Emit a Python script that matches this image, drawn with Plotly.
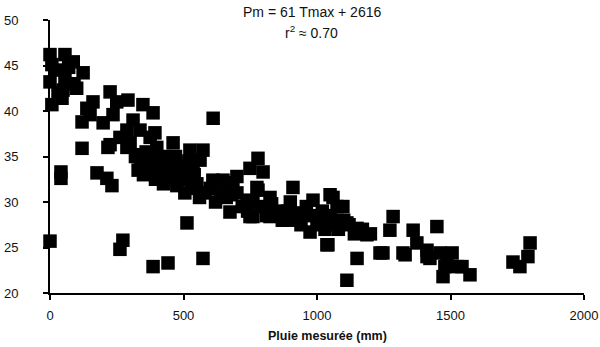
import plotly.graph_objects as go

pluie = [0, 7, 0, 7, 0, 56, 87, 56, 124, 49, 100, 45, 161, 138, 120, 225, 250, 292, 348, 386,
         236, 199, 311, 337, 262, 375, 120, 217, 326, 400, 611, 393, 461, 524, 573, 562, 749, 648,
         536, 487, 779, 798, 910, 1049, 700, 779, 985, 1075, 813, 749, 873, 936, 1011, 1112, 974,
         1037, 685, 1060, 1097, 1150, 1187, 1285, 1273, 1360, 1449, 1374, 1322, 1412, 1423, 1461,
         1506, 1236, 1150, 1112, 1479, 1472, 1543, 1524, 1573, 1798, 1790, 1734, 1760, 1487,
         41, 41, 176, 213, 232, 273, 262, 386, 442, 513, 573, 1041, 150, 288, 288, 225,
         300, 320, 340, 360, 370, 380, 390, 400, 410, 420, 430, 440, 450, 460, 470, 480, 490, 500,
         510, 520, 530, 540, 550, 330, 350, 395, 425, 455, 475, 505, 560, 580, 600, 620, 640, 660,
         680, 700, 720, 740, 760, 790, 810, 830, 850, 870, 890, 900, 920, 940, 960, 980, 1000,
         1020, 1030, 1050, 1060, 1080, 1100, 1120, 1140, 1170, 1200, 610, 674, 760, 824, 925,
         1004, 775, 738, 824, 1330, 1412, 1247, 20, 70, 30, 90]
tmax = [46.2, 45.1, 43.2, 40.7, 25.7, 46.2, 45.4, 43.7, 44.2, 42.3, 42.5, 41.4, 41.0, 40.3, 38.8,
        42.1, 41.0, 41.2, 40.7, 39.8, 39.6, 38.7, 39.0, 37.9, 37.1, 37.1, 35.9, 36.0, 35.2, 34.3,
        39.2, 37.6, 36.5, 35.7, 35.7, 34.6, 33.7, 32.4, 33.5, 32.7, 34.8, 33.3, 31.6, 30.8, 32.8,
        31.3, 30.2, 29.5, 29.1, 28.4, 28.0, 28.4, 28.0, 27.7, 26.7, 25.3, 32.1, 30.5, 29.5, 27.1,
        26.4, 28.4, 26.9, 26.9, 27.3, 25.5, 24.4, 24.7, 23.8, 24.4, 24.4, 24.4, 23.8, 21.4, 22.9,
        21.8, 22.9, 22.9, 22.0, 25.5, 24.0, 23.4, 22.9, 23.1,
        33.3, 32.6, 33.2, 32.6, 31.8, 25.8, 24.8, 22.9, 23.3, 27.7, 23.8, 25.3, 39.6, 36.0, 37.9, 36.3,
        36.5, 35.0, 34.5, 35.5, 34.0, 33.5, 35.0, 36.0, 34.0, 33.0, 35.0, 34.5, 33.5, 34.0, 35.0, 33.0,
        34.0, 32.5, 33.8, 34.5, 31.5, 33.0, 32.0, 33.5, 33.0, 32.5, 32.0, 32.5, 31.8, 31.0, 30.5,
        31.0, 31.5, 30.0, 31.0, 30.5, 30.8, 31.0, 29.5, 29.0, 30.0, 29.5, 28.5, 29.8, 29.0, 28.0,
        29.0, 30.0, 28.0, 27.5, 29.5, 28.5, 27.5, 29.0, 27.0, 28.5, 27.5, 27.0, 28.0, 27.5, 26.5,
        27.0, 26.5, 32.4, 28.9, 28.4, 28.4, 28.8, 28.0, 31.6, 30.2, 30.5, 24.2, 24.0, 24.4,
        44.5, 44.8, 42.0, 43.0]

x_ticks = [0, 500, 1000, 1500, 2000]
y_ticks = [20, 25, 30, 35, 40, 45, 50]
equation = "Pm = 61 Tmax + 2616"
r2_text = "r<sup>2</sup> ≈ 0.70"
x_title = "<b>Pluie mesurée (mm)</b>"

fig = go.Figure(go.Scatter(
    x=pluie, y=tmax, mode="markers", cliponaxis=False,
    marker=dict(symbol="square", size=13.5, color="black", line=dict(width=0)),
))

fam = "Liberation Sans, Arial, sans-serif"
fig.update_layout(
    width=600, height=347, margin=dict(l=50, r=16, t=20, b=54),
    paper_bgcolor="white", plot_bgcolor="white", showlegend=False,
    font=dict(family=fam, size=13, color="#111"),
    xaxis=dict(range=[0, 2000], tickvals=x_ticks, showgrid=False,
               zeroline=False, showline=True, linecolor="black", linewidth=2,
               ticks="outside", ticklen=5, tickcolor="black", tickwidth=1.5,
               ticklabelstandoff=4, automargin=False),
    yaxis=dict(range=[20, 50], tickvals=y_ticks, showgrid=False,
               zeroline=False, showline=True, linecolor="black", linewidth=2,
               ticks="outside", ticklen=5, tickcolor="black", tickwidth=1.5,
               ticklabelstandoff=22, automargin=False),
    annotations=[
        dict(text=equation, x=0.49, y=1.0, xref="paper", yref="paper",
             xanchor="center", yanchor="middle", yshift=8, showarrow=False,
             font=dict(size=14, family=fam, color="#111")),
        dict(text=r2_text, x=0.49, y=1.0, xref="paper", yref="paper",
             xanchor="center", yanchor="middle", yshift=-12, showarrow=False,
             font=dict(size=14, family=fam, color="#111")),
        dict(text=x_title, x=0.519, y=0.0, xref="paper", yref="paper",
             xanchor="center", yanchor="middle", yshift=-43, showarrow=False,
             font=dict(size=12.5, family=fam, color="#111")),
    ],
)

fig.write_html(
    "out.html",
    config={"displayModeBar": False},
    post_script="document.body.style.margin='0px';document.body.style.overflow='hidden';",
)
